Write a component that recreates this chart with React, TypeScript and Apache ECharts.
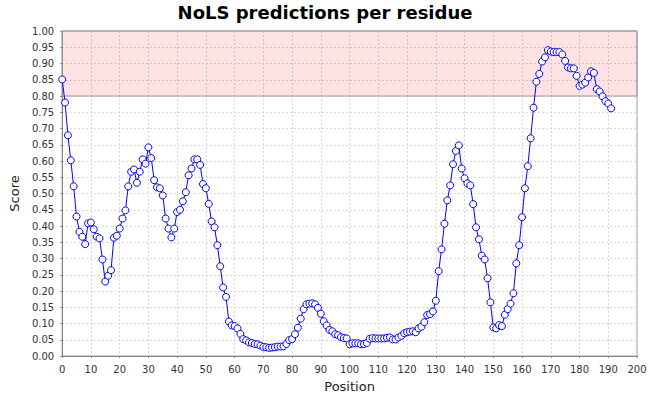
import React, { useEffect, useRef } from "react";
import * as echarts from "echarts";

const TITLE = "NoLS predictions per residue";
const X_NAME = "Position";
const Y_NAME = "Score";
const THRESHOLD_LOW = 0.8;
const THRESHOLD_HIGH = 1.0;

// NoLS score per residue position (position = index, starting at 0)
const scores: number[] = [
  0.851, 0.780, 0.679, 0.602, 0.522, 0.429, 0.382, 0.367, 0.344, 0.408,
  0.411, 0.390, 0.367, 0.362, 0.297, 0.229, 0.247, 0.264, 0.364, 0.370,
  0.392, 0.423, 0.448, 0.522, 0.567, 0.574, 0.533, 0.567, 0.605, 0.592,
  0.642, 0.609, 0.541, 0.519, 0.516, 0.494, 0.423, 0.392, 0.365, 0.392,
  0.443, 0.450, 0.476, 0.504, 0.556, 0.577, 0.605, 0.605, 0.588, 0.529,
  0.516, 0.468, 0.414, 0.396, 0.341, 0.276, 0.211, 0.182, 0.106, 0.094,
  0.092, 0.085, 0.068, 0.052, 0.048, 0.042, 0.040, 0.037, 0.036, 0.032,
  0.028, 0.027, 0.025, 0.026, 0.027, 0.029, 0.029, 0.030, 0.037, 0.049,
  0.052, 0.067, 0.087, 0.115, 0.144, 0.159, 0.161, 0.162, 0.159, 0.148,
  0.130, 0.107, 0.094, 0.080, 0.076, 0.067, 0.064, 0.058, 0.055, 0.054,
  0.036, 0.039, 0.039, 0.039, 0.036, 0.037, 0.040, 0.053, 0.055, 0.054,
  0.054, 0.054, 0.054, 0.056, 0.057, 0.051, 0.051, 0.057, 0.062, 0.070,
  0.073, 0.075, 0.076, 0.073, 0.085, 0.090, 0.104, 0.126, 0.129, 0.137,
  0.170, 0.261, 0.328, 0.407, 0.479, 0.525, 0.590, 0.631, 0.648, 0.577,
  0.547, 0.531, 0.525, 0.467, 0.396, 0.359, 0.309, 0.297, 0.239, 0.165,
  0.088, 0.085, 0.095, 0.092, 0.127, 0.144, 0.161, 0.193, 0.285, 0.341,
  0.427, 0.516, 0.584, 0.670, 0.764, 0.844, 0.868, 0.906, 0.919, 0.941,
  0.937, 0.935, 0.935, 0.935, 0.928, 0.908, 0.888, 0.885, 0.885, 0.862,
  0.831, 0.835, 0.841, 0.857, 0.876, 0.871, 0.821, 0.814, 0.799, 0.784,
  0.777, 0.762,
];

const X_MIN = 0;
const X_MAX = 200;
const X_STEP = 10;
const Y_MIN = 0;
const Y_MAX = 1;
const Y_STEP = 0.05;

const FONT = "DejaVu Sans";

export default function App() {
  const ref = useRef<HTMLDivElement>(null);

  useEffect(() => {
    if (!ref.current) return;
    const chart = echarts.init(ref.current, undefined, { renderer: "svg" });
    const data = scores.map((s, i) => [i, s]);
    chart.setOption({
      animation: false,
      backgroundColor: "#ffffff",
      textStyle: { fontFamily: FONT },
      title: {
        text: TITLE,
        left: "center",
        top: 3,
        padding: 0,
        textStyle: { fontFamily: FONT, fontSize: 18, fontWeight: "bold", color: "#000" },
      },
      grid: {
        left: 61,
        right: 13,
        top: 31,
        bottom: 44,
        show: true,
        borderColor: "#9a9a9a",
        borderWidth: 1,
        backgroundColor: "#ffffff",
      },
      xAxis: {
        type: "value",
        min: X_MIN,
        max: X_MAX,
        interval: X_STEP,
        offset: 4,
        name: X_NAME,
        nameLocation: "middle",
        nameGap: 20,
        nameTextStyle: { fontFamily: FONT, fontSize: 13, color: "#222" },
        axisLine: { show: true, lineStyle: { color: "#888", width: 1 } },
        axisTick: { show: true, length: 2, lineStyle: { color: "#888" } },
        axisLabel: { fontFamily: FONT, fontSize: 10, color: "#333", margin: 4 },
        splitLine: { show: true, lineStyle: { color: "#d6d6d6", type: [2, 2], width: 1 } },
      },
      yAxis: {
        type: "value",
        min: Y_MIN,
        max: Y_MAX,
        interval: Y_STEP,
        offset: 4,
        name: Y_NAME,
        nameLocation: "middle",
        nameGap: 27,
        nameTextStyle: { fontFamily: FONT, fontSize: 13, color: "#222" },
        axisLine: { show: true, lineStyle: { color: "#888", width: 1 } },
        axisTick: { show: true, length: 2, lineStyle: { color: "#888" } },
        axisLabel: {
          fontFamily: FONT,
          fontSize: 10,
          color: "#333",
          margin: 4,
          formatter: (v: number) => v.toFixed(2),
        },
        splitLine: { show: true, lineStyle: { color: "#d6d6d6", type: [2, 2], width: 1 } },
      },
      series: [
        {
          type: "line",
          data,
          symbol: "circle",
          symbolSize: 7,
          showSymbol: true,
          clip: true,
          lineStyle: { color: "#0000ff", width: 1 },
          itemStyle: { color: "#ffffff", borderColor: "#0000ff", borderWidth: 1 },
          markArea: {
            silent: true,
            itemStyle: {
              color: "rgba(255,0,0,0.11)",
              borderColor: "#9a9a9a",
              borderWidth: 1,
            },
            data: [[{ yAxis: THRESHOLD_LOW }, { yAxis: THRESHOLD_HIGH }]],
          },
          z: 3,
        },
      ],
    });
    return () => chart.dispose();
  }, []);

  return (
    <div
      ref={ref}
      style={{ position: "fixed", left: 0, top: 0, width: 650, height: 400 }}
    />
  );
}
